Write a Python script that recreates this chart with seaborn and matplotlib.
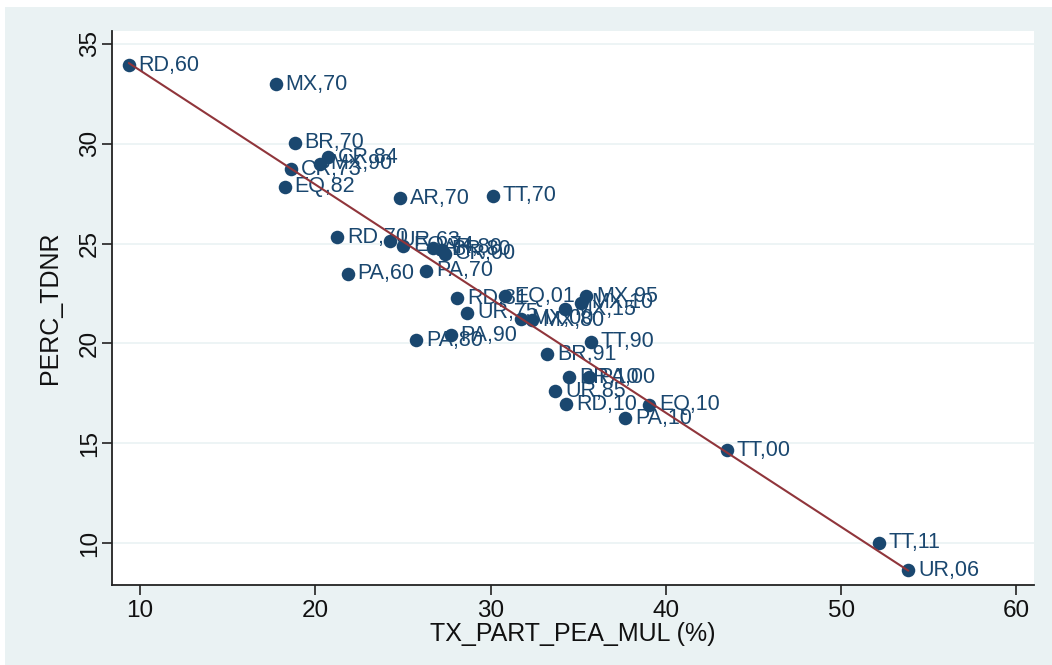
import numpy as np
import pandas as pd
import matplotlib
matplotlib.use("Agg")
import matplotlib.pyplot as plt
from matplotlib.patches import Rectangle
import seaborn as sns

# Country/census-year codes with female participation rate and PERC_TDNR
labels = ["RD,60", "MX,70", "BR,70", "CR,84", "MX,90", "CR,73", "EQ,82",
          "AR,70", "TT,70", "RD,70", "UR,63", "EQ,74", "AR,80", "BR,80",
          "CR,00", "PA,60", "PA,70", "RD,81", "EQ,01", "MX,95", "MX,10",
          "MX,15", "UR,75", "MX,00", "MX,80", "PA,80", "PA,90", "TT,90",
          "BR,91", "BR,10", "PA,00", "UR,85", "RD,10", "EQ,10", "PA,10",
          "TT,00", "TT,11", "UR,06"]
tx_part = [9.36, 17.74, 18.84, 20.71, 20.27, 18.62, 18.26,
           24.82, 30.14, 21.26, 24.25, 25.02, 26.73, 27.20,
           27.39, 21.85, 26.34, 28.11, 30.80, 35.46, 35.17,
           34.22, 28.68, 31.75, 32.38, 25.77, 27.73, 35.70,
           33.23, 34.50, 35.59, 33.69, 34.32, 39.06, 37.68,
           43.48, 52.16, 53.83]
perc_tdnr = [33.94, 32.99, 30.06, 29.33, 29.00, 28.73, 27.86,
             27.28, 27.40, 25.31, 25.14, 24.89, 24.79, 24.69,
             24.49, 23.50, 23.63, 22.26, 22.37, 22.37, 22.04,
             21.70, 21.53, 21.23, 21.17, 20.16, 20.40, 20.08,
             19.47, 18.30, 18.30, 17.60, 16.96, 16.93, 16.25,
             14.66, 10.02, 8.63]

x_ticks = [10, 20, 30, 40, 50, 60]
y_ticks = [10, 15, 20, 25, 30, 35]

df = pd.DataFrame({"label": labels, "TX_PART_PEA_MUL": tx_part,
                   "PERC_TDNR": perc_tdnr})

sns.set_theme(style="white")
plt.rcParams["font.family"] = ["Liberation Sans", "DejaVu Sans"]

NAVY = "#1a476f"
MAROON = "#90353b"
REGION = "#EAF2F3"

W, H = 1052, 665
fig = plt.figure(figsize=(W / 100, H / 100), dpi=100)
fig.patch.set_facecolor(REGION)
# thin white margins along the top and left edges
fig.patches.append(Rectangle((0, 1 - 7 / H), 1, 7 / H, transform=fig.transFigure,
                             facecolor="white", edgecolor="none", zorder=0))
fig.patches.append(Rectangle((0, 0), 5 / W, 1, transform=fig.transFigure,
                             facecolor="white", edgecolor="none", zorder=0))

left, right, top, bottom = 112, 1034, 31, 585
ax = fig.add_axes([left / W, (H - bottom) / H, (right - left) / W, (bottom - top) / H])
ax.set_facecolor("white")

sns.scatterplot(data=df, x="TX_PART_PEA_MUL", y="PERC_TDNR", ax=ax,
                color=NAVY, s=95, linewidth=0, zorder=3)
for lab, xv, yv in zip(labels, tx_part, perc_tdnr):
    ax.annotate(lab, (xv, yv), xytext=(7, 0), textcoords="offset points",
                va="center", ha="left", fontsize=15.5, color=NAVY, zorder=4)
sns.regplot(data=df, x="TX_PART_PEA_MUL", y="PERC_TDNR", ax=ax, scatter=False,
            ci=None, truncate=True, line_kws={"color": MAROON, "lw": 1.5, "zorder": 5})

ax.set_xlim(8.4, 61.0)
ax.set_ylim(7.9, 35.65)
ax.set_xticks(x_ticks)
ax.set_yticks(y_ticks)
ax.set_xticklabels([str(t) for t in x_ticks])
ax.set_yticklabels([str(t) for t in y_ticks], rotation=90, va="center")

ax.grid(axis="y", color=REGION, lw=1.2)
ax.grid(axis="x", visible=False)
ax.set_axisbelow(True)

for side in ["top", "right"]:
    ax.spines[side].set_visible(False)
for side in ["left", "bottom"]:
    ax.spines[side].set_color("#222222")
    ax.spines[side].set_linewidth(1.3)

ax.tick_params(axis="both", direction="out", length=7, width=1.2, color="#222222",
               labelsize=17.5, labelcolor="#111111", left=True, bottom=True)
ax.tick_params(axis="y", pad=1)
ax.tick_params(axis="x", pad=4)

ax.set_xlabel("TX_PART_PEA_MUL (%)", fontsize=18, color="#111111", labelpad=0)
ax.set_ylabel("PERC_TDNR", fontsize=18, color="#111111", labelpad=12)

fig.savefig("out.png", dpi=100, facecolor=fig.get_facecolor())
